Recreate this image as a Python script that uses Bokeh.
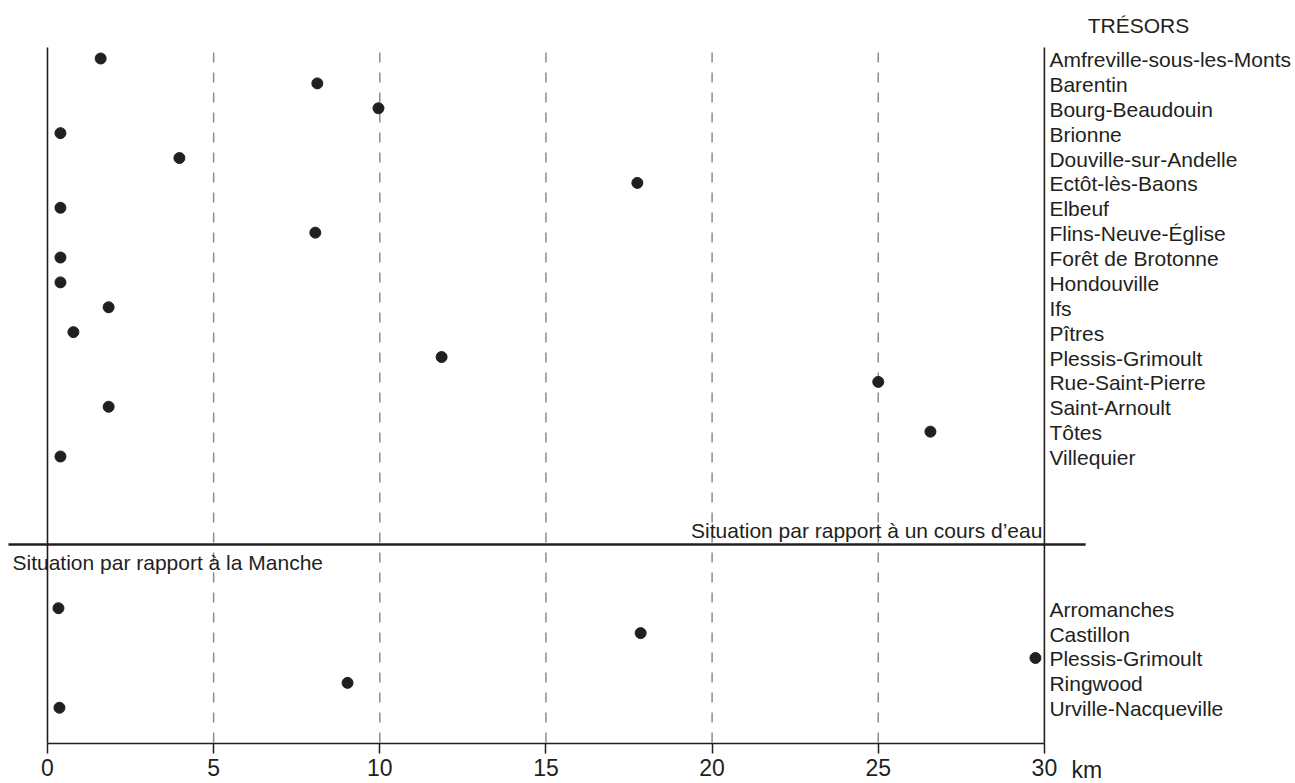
from bokeh.plotting import figure
from bokeh.models import Range1d, LinearAxis, FixedTicker, ColumnDataSource
from bokeh.core.properties import value
from bokeh.embed import file_html
from bokeh.resources import INLINE

# ---------------- data ----------------
top_names = ["Amfreville-sous-les-Monts", "Barentin", "Bourg-Beaudouin", "Brionne",
             "Douville-sur-Andelle", "Ectôt-lès-Baons", "Elbeuf", "Flins-Neuve-Église",
             "Forêt de Brotonne", "Hondouville", "Ifs", "Pîtres", "Plessis-Grimoult",
             "Rue-Saint-Pierre", "Saint-Arnoult", "Tôtes", "Villequier"]
top_km = [1.6, 8.12, 9.96, 0.39, 3.97, 17.75, 0.39, 8.06, 0.39, 0.39, 1.84, 0.78,
          11.86, 25.0, 1.84, 26.57, 0.39]

bottom_names = ["Arromanches", "Castillon", "Plessis-Grimoult", "Ringwood", "Urville-Nacqueville"]
bottom_km = [0.33, 17.85, 29.73, 9.03, 0.36]

grid_km = [5, 10, 15, 20, 25]
tick_km = [0, 5, 10, 15, 20, 25, 30]
tick_labels = ["0", "5", "10", "15", "20", "25", "30"]
unit_label = "km"
header = "TRÉSORS"
river_title = "Situation par rapport à un cours d’eau"
sea_title = "Situation par rapport à la Manche"

# ---------------- layout / style ----------------
FONT_NAME = "Liberation Sans"
FONT = value(FONT_NAME)
INK = "#231f20"
FS = "21px"
TICK_FS = "23px"
X_MIN, X_MAX = 0, 30
TOP_ROW0 = 0.0           # first top row
BOTTOM_ROW0 = 22.1       # first bottom row
SEP_ROW = 19.54
AXIS_ROW = 27.54
FRAME_TOP_ROW = -0.44
GRID_TOP_ROW = -0.24
SEP_X0, SEP_X1 = -1.174, 31.24

top_rows = [TOP_ROW0 + i for i in range(len(top_names))]
bottom_rows = [BOTTOM_ROW0 + i for i in range(len(bottom_names))]

p = figure(width=1295, height=783,
           x_range=Range1d(-1.414, 37.556), y_range=Range1d(29.146, -2.332),
           x_axis_type=None, y_axis_type=None,
           output_backend="svg", toolbar_location=None,
           min_border=0, outline_line_color=None)
p.background_fill_color = "white"

# dashed grid lines
p.segment(x0=grid_km, y0=[GRID_TOP_ROW] * len(grid_km), x1=grid_km, y1=[AXIS_ROW] * len(grid_km),
          line_color="#8c8c8c", line_width=1.5, line_dash="10 10")

# frame lines: left, right, bottom
p.segment(x0=[X_MIN, X_MAX, X_MIN], y0=[FRAME_TOP_ROW, FRAME_TOP_ROW, AXIS_ROW],
          x1=[X_MIN, X_MAX, X_MAX], y1=[AXIS_ROW, AXIS_ROW, AXIS_ROW],
          line_color=INK, line_width=1.6)

# separator
p.segment(x0=[SEP_X0], y0=[SEP_ROW], x1=[SEP_X1], y1=[SEP_ROW], line_color=INK, line_width=2.6)

# axis
ax = LinearAxis(ticker=FixedTicker(ticks=tick_km), fixed_location=AXIS_ROW,
                axis_line_color=None, major_tick_out=10, major_tick_in=0,
                minor_tick_out=0, minor_tick_in=0,
                major_tick_line_color=INK, major_tick_line_width=1.5,
                major_label_overrides={t: l for t, l in zip(tick_km, tick_labels)},
                major_label_text_font=FONT_NAME, major_label_text_font_size=TICK_FS,
                major_label_text_color=INK, major_label_standoff=5)
p.add_layout(ax, "below")

p.text(x=[X_MAX], y=[AXIS_ROW], text=[unit_label], x_offset=27, y_offset=26,
       text_font=FONT, text_font_size=TICK_FS, text_color=INK,
       text_baseline="middle", text_align="left")

# dots
src_top = ColumnDataSource(dict(x=top_km, y=top_rows, name=top_names))
src_bot = ColumnDataSource(dict(x=bottom_km, y=bottom_rows, name=bottom_names))
for src in (src_top, src_bot):
    p.scatter(x="x", y="y", source=src, size=11, fill_color=INK, line_color=INK)
    p.text(x=X_MAX, y="y", text="name", source=src, x_offset=5, y_offset=1,
           text_font=FONT, text_font_size=FS, text_color=INK,
           text_baseline="middle", text_align="left")

# titles
p.text(x=[32.83], y=[-1.33], text=[header], text_font=FONT, text_font_size=FS,
       text_color=INK, text_baseline="middle", text_align="center")
p.text(x=[X_MAX], y=[18.97], text=[river_title], x_offset=-2, text_font=FONT, text_font_size=FS,
       text_color=INK, text_baseline="middle", text_align="right")
p.text(x=[SEP_X0], y=[20.26], text=[sea_title], x_offset=4, text_font=FONT, text_font_size=FS,
       text_color=INK, text_baseline="middle", text_align="left")

open("out.html", "w").write(file_html(p, INLINE))
